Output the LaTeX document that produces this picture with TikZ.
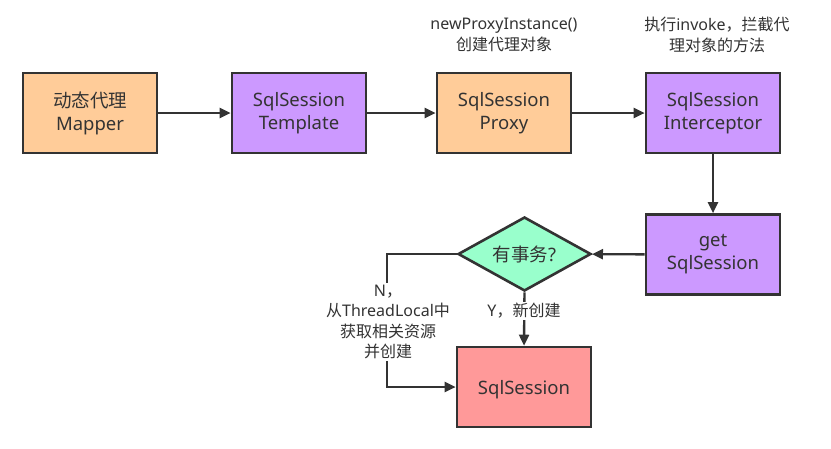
\documentclass[tikz,border=0pt]{standalone}
\usepackage{fontspec}
\setmainfont{Noto Sans}
\newfontfamily\cjk{Noto Sans CJK SC}
\usetikzlibrary{shapes.geometric,arrows.meta}
\definecolor{ink}{HTML}{333333}
\definecolor{orangefill}{HTML}{FFCC99}
\definecolor{purplefill}{HTML}{CC99FF}
\definecolor{greenfill}{HTML}{99FFCC}
\definecolor{redfill}{HTML}{FF9999}
\tikzset{
  box/.style={draw=ink, line width=2.6pt, minimum width=134pt, minimum height=80pt, inner sep=0pt, align=center, text=ink, font=\fontsize{18.5}{23}\selectfont, execute at begin node={\rule{0pt}{20pt}}},
  decision/.style={diamond, draw=ink, line width=2.6pt, fill=greenfill, minimum width=133pt, minimum height=74pt, aspect=1.8, inner sep=0pt, text=ink, font=\fontsize{18.5}{23}\selectfont},
  conn/.style={draw=ink, line width=2.4pt, -{Triangle[length=11pt,width=10pt]}},
  note/.style={align=center, text=ink, font=\fontsize{16}{20.5}\selectfont, inner sep=1pt},
}
\begin{document}
\begin{tikzpicture}[x=1pt,y=-1pt]
\useasboundingbox[fill=white] (0,0) rectangle (831,448);
\node[box, fill=orangefill] (mapper) at (90,113) {{\cjk 动态代理}\\Mapper};
\node[box, fill=purplefill] (tpl) at (299,113) {SqlSession\\Template};
\node[box, fill=orangefill] (proxy) at (504,113) {SqlSession\\Proxy};
\node[box, fill=purplefill] (icp) at (713,113) {SqlSession\\Interceptor};
\node[box, fill=purplefill] (get) at (713,254.5) {get\\SqlSession};
\node[decision] (dia) at (524.5,254) {{\cjk 有事务}?};
\node[box, fill=redfill] (sess) at (524,387) {SqlSession};
\node[note] (n1) at (504,35) {newProxyInstance()\\{\cjk 创建代理对象}};
\node[note] (n2) at (717,35) {{\cjk 执行}invoke{\cjk ，拦截代}\\{\cjk 理对象的方法}};
\draw[conn] (mapper) -- (tpl);
\draw[conn] (tpl) -- (proxy);
\draw[conn] (proxy) -- (icp);
\draw[conn] (icp) -- (get);
\draw[conn] (get) -- (dia);
\coordinate (nc) at (387,254);
\draw[conn] (dia.west) -- (nc) |- (sess.west);
\draw[conn] (dia.south) -- (sess.north);
\node[note, fill=white, inner ysep=2pt] (nlab) at (388,322) {N{\cjk ，}\\{\cjk 从}ThreadLocal{\cjk 中}\\{\cjk 获取相关资源}\\{\cjk 并创建}};
\node[note, fill=white] (ylab) at (524,311) {Y{\cjk ，新创建}};
\end{tikzpicture}
\end{document}
